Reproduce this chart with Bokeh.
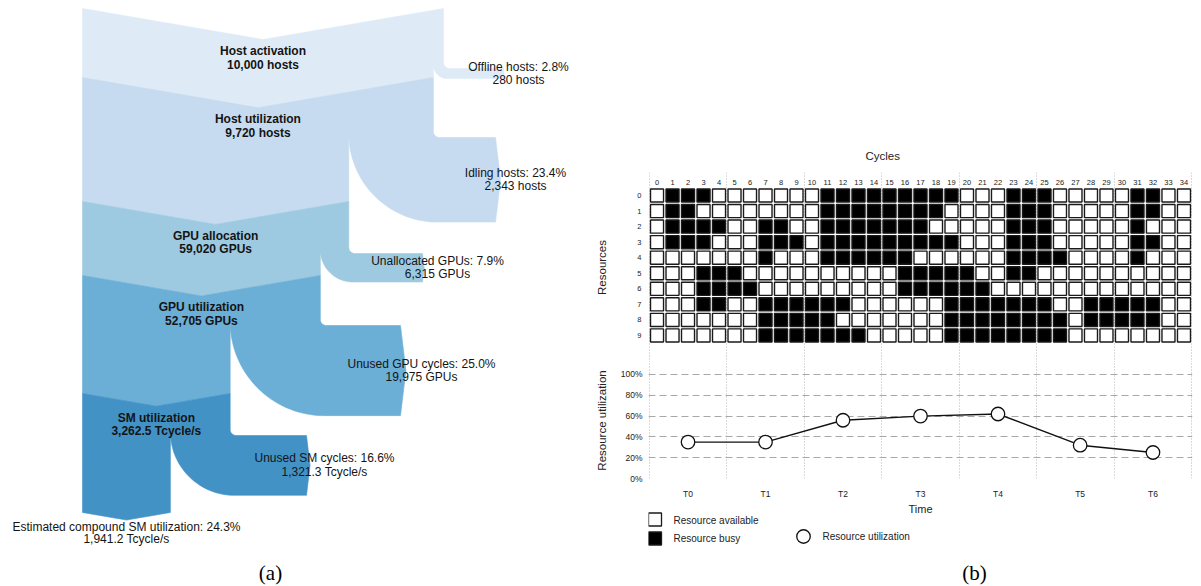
import numpy as np
from bokeh.plotting import figure
from bokeh.layouts import row, column
from bokeh.models import Range1d, FixedTicker, Grid, ColumnDataSource
from bokeh.core.properties import value
from bokeh.embed import file_html
from bokeh.resources import INLINE

# ---------------- data: panel (a) ----------------
stage_names = ["Host activation", "Host utilization", "GPU allocation", "GPU utilization", "SM utilization"]
stage_values = [10000, 9720, 59020, 52705, 3262.5]
stage_units = ["hosts", "hosts", "GPUs", "GPUs", "Tcycle/s"]
loss_names = ["Offline hosts", "Idling hosts", "Unallocated GPUs", "Unused GPU cycles", "Unused SM cycles"]
loss_values = [280, 2343, 6315, 19975, 1321.3]
loss_pct = [2.8, 23.4, 7.9, 25.0, 16.6]
final_name = "Estimated compound SM utilization"
final_value = 1941.2
final_pct = 24.3
stage_colors = ["#deebf7", "#c6dbef", "#9ecae1", "#6baed6", "#4292c6"]

# ---------------- data: panel (b) ----------------
cycles = list(range(35))
resources = list(range(10))
busy_rows = [
    "01110000000111111111000111000001100",
    "01100000000111111110000111000001100",
    "01111001100111111100000111000001000",
    "01110001110111111111000111000001100",
    "00000001000111111000000111100001000",
    "00011100000000001111100110000000000",
    "00011110000000001111110000000000000",
    "00011001111110000001111111001111100",
    "00000001111100000001111111101111100",
    "00000001111111000001111111100000000",
]
periods = ["T0", "T1", "T2", "T3", "T4", "T5", "T6"]
period_pos = [2, 7, 12, 17, 22, 27.3, 32]
utilization = [35, 35, 56, 60, 62, 32, 25]
util_ticks = [0, 20, 40, 60, 80, 100]

SANS = value("Liberation Sans")
TXT = "#141414"


def fmt(v):
    return f"{v:,.1f}" if isinstance(v, float) else f"{v:,}"


def arc(cx, cy, r, a0, a1, n=18):
    t = np.radians(np.linspace(a0, a1, n))
    return list(cx + r * np.cos(t)), list(cy + r * np.sin(t))


# ---------------- panel (a): sankey ----------------
LEFT = 82.0
FIRST_W = 361.0
K = 0.172
band_top = [8, 77, 201, 275, 393, 512]
branch_top = [68, 137, 253, 325, 435]
branch_end = [503, 495, 422, 400, 306]
label_x = [518, 515, 437, 421, 324]

widths = [FIRST_W]
branch_w = []
for i in range(5):
    th = widths[i] * loss_values[i] / stage_values[i]
    branch_w.append(th)
    widths.append(widths[i] - th)

pxs, pys = [], []
for i in range(5):
    R = LEFT + widths[i]
    Rn = LEFT + widths[i + 1]
    th = branch_w[i]
    Yt, Yb, Bo, E = band_top[i], band_top[i + 1], branch_top[i], branch_end[i]
    ro, ri, tip = 6.0, th + 4.0, 0.06 * th
    X = [LEFT, (LEFT + R) / 2, R]
    Y = [Yt, Yt + K * widths[i] / 2, Yt]
    ax, ay = arc(R + ro, Bo - ro, ro, 180, 90)
    X += ax; Y += ay
    X += [E, E + tip, E]
    Y += [Bo, Bo + th / 2, Bo + th]
    ax, ay = arc(Rn + ri, Bo + th - ri, ri, 90, 180, 48)
    X += ax; Y += ay
    X += [Rn, (LEFT + Rn) / 2, LEFT]
    Y += [Yb, Yb + K * widths[i + 1] / 2, Yb]
    pxs.append(X)
    pys.append(Y)

LW = 586
left = figure(width=LW, height=585, x_range=Range1d(0, LW), y_range=Range1d(585, 0),
              output_backend="svg", toolbar_location=None, x_axis_location=None,
              y_axis_location=None, min_border=0, outline_line_color=None)
left.grid.visible = False
left.patches(xs="xs", ys="ys", fill_color="c", line_color="c", line_width=0.6,
             source=ColumnDataSource(dict(xs=pxs, ys=pys, c=stage_colors)))

s_cx = [LEFT + w / 2 for w in widths[:5]]
s_y1 = [band_top[i] + K * widths[i] / 2 + 11.5 for i in range(5)]
s_y2 = [y + 13.5 for y in s_y1]
left.text(x=s_cx, y=s_y1, text=stage_names, text_font=SANS, text_font_size=value("12px"),
          text_font_style="bold", text_align="center", text_baseline="middle", text_color=TXT)
left.text(x=s_cx, y=s_y2, text=[f"{fmt(v)} {u}" for v, u in zip(stage_values, stage_units)],
          text_font=SANS, text_font_size=value("12px"), text_font_style="bold",
          text_align="center", text_baseline="middle", text_color=TXT)

b_c = [branch_top[i] + branch_w[i] / 2 for i in range(5)]
left.text(x=label_x, y=[c - 7 for c in b_c],
          text=[f"{n}: {p:.1f}%" for n, p in zip(loss_names, loss_pct)],
          text_font=SANS, text_font_size=value("12px"), text_align="center",
          text_baseline="middle", text_color=TXT)
left.text(x=label_x, y=[c + 6.3 for c in b_c],
          text=[f"{fmt(v)} {u}" for v, u in zip(loss_values, stage_units)],
          text_font=SANS, text_font_size=value("12px"), text_align="center",
          text_baseline="middle", text_color=TXT)

f_cx = LEFT + widths[5] / 2
f_y1 = band_top[5] + K * widths[5] / 2 + 6.5
left.text(x=[f_cx, f_cx], y=[f_y1, f_y1 + 12.5],
          text=[f"{final_name}: {final_pct:.1f}%", f"{fmt(final_value)} {stage_units[-1]}"],
          text_font=SANS, text_font_size=value("12px"), text_align="center",
          text_baseline="middle", text_color=TXT)
left.text(x=[270], y=[572], text=["(a)"], text_font=value("Liberation Serif"),
          text_font_size=value("21px"), text_align="center", text_baseline="middle",
          text_color="#000000")

# ---------------- panel (b): shared layout ----------------
RT = "#222222"
bounds = [-0.5 + 5 * k for k in range(8)]
xr = Range1d(-0.55, 34.55)
RW = 1200 - LW          # right column width
BL, BR = 62, 8          # frame from x=648 to x=1192


def plain_axis(ax, font_size):
    ax.axis_line_color = None
    ax.major_tick_line_color = None
    ax.minor_tick_line_color = None
    ax.major_tick_out = 0
    ax.major_tick_in = 0
    ax.minor_tick_out = 0
    ax.minor_tick_in = 0
    ax.major_label_text_font = "Liberation Sans"
    ax.major_label_text_font_size = font_size
    ax.major_label_text_color = RT
    ax.axis_label_text_font = "Liberation Sans"
    ax.axis_label_text_font_size = "11.5px"
    ax.axis_label_text_font_style = "normal"
    ax.axis_label_text_color = RT


# ---------------- panel (b): top grid ----------------
top = figure(width=RW, height=362, x_range=xr, y_range=Range1d(10.74, -1.479),
             output_backend="svg", toolbar_location=None, x_axis_location=None,
             y_axis_location="left", min_border_left=BL, min_border_right=BR,
             min_border_top=172, min_border_bottom=0, outline_line_color=None)
top.grid.visible = False
top.add_layout(Grid(dimension=0, ticker=FixedTicker(ticks=bounds), grid_line_color="#b5b5b5",
                    grid_line_dash="1 2", grid_line_width=1))
ya = top.yaxis[0]
plain_axis(ya, "7.5px")
ya.ticker = FixedTicker(ticks=resources)
ya.major_label_standoff = 7
ya.axis_label = "Resources"
ya.axis_label_standoff = 26

top.title.text = "Cycles"
top.title.align = "left"
top.title.offset = 217
top.title.text_font = "Liberation Sans"
top.title.text_font_size = "11.5px"
top.title.text_font_style = "normal"
top.title.text_color = RT
top.title.standoff = 21

cx, cy, cc = [], [], []
for r, line in zip(resources, busy_rows):
    for c in cycles:
        cx.append(c)
        cy.append(r)
        cc.append("#000000" if line[c] == "1" else "#ffffff")
top.rect(x="x", y="y", width=0.84, height=0.84, fill_color="c", line_color="#1a1a1a",
         line_width=1.4, source=ColumnDataSource(dict(x=cx, y=cy, c=cc)))
top.text(x=cycles, y=[-0.85] * len(cycles), text=[str(c) for c in cycles], text_font=SANS,
         text_font_size=value("7.5px"), text_align="center", text_baseline="middle",
         text_color=RT)

# ---------------- panel (b): utilization line ----------------
bot = figure(width=RW, height=140, x_range=xr, y_range=Range1d(0, 111.5),
             output_backend="svg", toolbar_location=None, x_axis_location="below",
             y_axis_location="left", min_border_left=BL, min_border_right=BR,
             min_border_top=0, min_border_bottom=24, outline_line_color=None)
bot.grid.visible = False
bot.add_layout(Grid(dimension=0, ticker=FixedTicker(ticks=bounds), grid_line_color="#b5b5b5",
                    grid_line_dash="1 2", grid_line_width=1))
bot.add_layout(Grid(dimension=1, ticker=FixedTicker(ticks=util_ticks), grid_line_color="#a8a8a8",
                    grid_line_dash="7 4", grid_line_width=1.2))
xa = bot.xaxis[0]
plain_axis(xa, "8.5px")
xa.ticker = FixedTicker(ticks=period_pos)
xa.major_label_overrides = {p: t for p, t in zip(period_pos, periods)}
xa.major_label_standoff = 10
ya2 = bot.yaxis[0]
plain_axis(ya2, "8.5px")
ya2.ticker = FixedTicker(ticks=util_ticks)
ya2.major_label_overrides = {t: f"{t}%" for t in util_ticks}
ya2.major_label_standoff = 6
ya2.axis_label = "Resource utilization"
ya2.axis_label_standoff = 10

bot.line(period_pos, utilization, line_color="#111111", line_width=1.4)
bot.scatter(period_pos, utilization, size=13.5, fill_color="#ffffff", line_color="#111111",
            line_width=1.3)

# ---------------- panel (b): legend & captions ----------------
leg = figure(width=RW, height=83, x_range=Range1d(648, 1192), y_range=Range1d(585, 502),
             output_backend="svg", toolbar_location=None, x_axis_location=None,
             y_axis_location=None, min_border_left=BL, min_border_right=BR,
             min_border_top=0, min_border_bottom=0, outline_line_color=None)
leg.grid.visible = False
leg.text(x=[920], y=[508], text=["Time"], text_font=SANS, text_font_size=value("11px"),
         text_align="center", text_baseline="middle", text_color=RT)
leg.scatter(x=[654.5, 654.5], y=[519, 538], marker="square", size=13,
            fill_color=["#ffffff", "#000000"], line_color="#1a1a1a", line_width=1.3)
leg.scatter(x=[803], y=[536], marker="circle", size=13.5, fill_color="#ffffff",
            line_color="#111111", line_width=1.3)
leg.text(x=[673, 673, 822], y=[520, 538, 536],
         text=["Resource available", "Resource busy", "Resource utilization"],
         text_font=SANS, text_font_size=value("10px"), text_align="left",
         text_baseline="middle", text_color=RT)
leg.text(x=[974], y=[572], text=["(b)"], text_font=value("Liberation Serif"),
         text_font_size=value("21px"), text_align="center", text_baseline="middle",
         text_color="#000000")

layout = row(left, column(top, bot, leg))
open("out.html", "w").write(file_html(layout, INLINE))
